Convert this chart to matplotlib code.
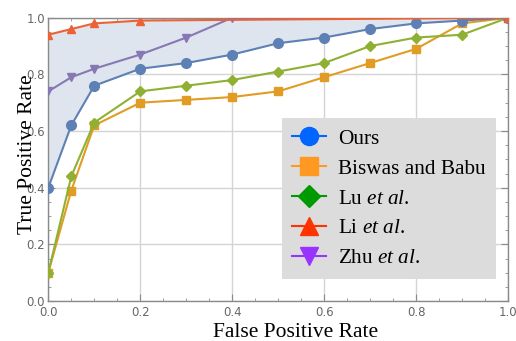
import matplotlib
matplotlib.use("Agg")
import matplotlib.pyplot as plt
import numpy as np
from matplotlib.lines import Line2D
from matplotlib.ticker import MultipleLocator

plt.rcParams["mathtext.fontset"] = "custom"
plt.rcParams["mathtext.rm"] = "Liberation Serif"
plt.rcParams["mathtext.it"] = "Liberation Serif:italic"

# --- data ---
fpr = [0.0, 0.05, 0.1, 0.2, 0.3, 0.4, 0.5, 0.6, 0.7, 0.8, 0.9, 1.0]
tpr_ours = [0.40, 0.62, 0.76, 0.82, 0.84, 0.87, 0.91, 0.93, 0.96, 0.98, 0.99, 1.0]
tpr_biswas = [0.10, 0.39, 0.62, 0.70, 0.71, 0.72, 0.74, 0.79, 0.84, 0.89, 0.98, 1.0]
tpr_lu = [0.10, 0.44, 0.63, 0.74, 0.76, 0.78, 0.81, 0.84, 0.90, 0.93, 0.94, 1.0]

fpr_li = [0.0, 0.05, 0.1, 0.2, 1.0]
tpr_li = [0.94, 0.96, 0.98, 0.99, 1.0]

fpr_zhu = [0.0, 0.05, 0.1, 0.2, 0.3, 0.4, 1.0]
tpr_zhu = [0.74, 0.79, 0.82, 0.87, 0.93, 1.0, 1.0]

names = ["Ours", "Biswas and Babu", r"Lu $\mathit{et\ al.}$",
         r"Li $\mathit{et\ al.}$", r"Zhu $\mathit{et\ al.}$"]

# plot colours (muted) and legend colours (saturated)
c_plot = ["#5e81b5", "#e19c24", "#8fb032", "#eb6235", "#8778b3"]
c_leg = ["#0066ff", "#ff9922", "#009900", "#ff3300", "#9933ff"]
mk = ["o", "s", "D", "^", "v"]
msz = [7, 5.5, 5, 6, 6]

fig = plt.figure(figsize=(5.16, 3.41), dpi=100)
ax = fig.add_axes([0.0936, 0.1173, 0.891, 0.8307])

# shaded band between Ours and Li et al.
li_interp = np.interp(fpr, fpr_li, tpr_li)
ax.fill_between(fpr, tpr_ours, li_interp, color="#dfe5ef", lw=0, zorder=1)

series = [(fpr, tpr_ours), (fpr, tpr_biswas), (fpr, tpr_lu),
          (fpr_li, tpr_li), (fpr_zhu, tpr_zhu)]
order_z = [4, 3, 3, 5, 3]
for (x, y), c, m, s, z in zip(series, c_plot, mk, msz, order_z):
    ax.plot(x, y, color=c, marker=m, markersize=s, lw=1.5, zorder=z)

ax.set_xlim(0, 1)
ax.set_ylim(0, 1)
ax.xaxis.set_major_locator(MultipleLocator(0.2))
ax.yaxis.set_major_locator(MultipleLocator(0.2))
ax.xaxis.set_minor_locator(MultipleLocator(0.05))
ax.yaxis.set_minor_locator(MultipleLocator(0.05))
ax.xaxis.set_major_formatter(lambda v, p: f"{v:.1f}")
ax.yaxis.set_major_formatter(lambda v, p: f"{v:.1f}")
ax.grid(True, which="major", color="#d4d4d4", lw=1, zorder=0)
ax.set_axisbelow(True)

for sp in ax.spines.values():
    sp.set_color("#8a8a8a")
    sp.set_linewidth(1)
ax.tick_params(which="both", direction="in", top=True, right=True,
               color="#8a8a8a", labelcolor="#666666", labelsize=8.5)
ax.tick_params(which="major", length=5)
ax.tick_params(which="minor", length=2.5)
ax.tick_params(axis="y", pad=2.5)

ax.set_xlabel("False Positive Rate", family="Liberation Serif", fontsize=15.5,
              va="baseline")
ax.xaxis.set_label_coords(0.537, -0.128)
ax.set_ylabel("True Positive Rate", family="Liberation Serif", fontsize=15.5,
              va="baseline")
ax.yaxis.set_label_coords(-0.036, 0.519)

handles = [Line2D([], [], color=c, marker=m, markersize=13 if m != "D" else 11,
                  lw=1.5) for c, m in zip(c_leg, mk)]
leg = ax.legend(handles, names, loc="lower left", bbox_to_anchor=(0.508, 0.078),
                prop={"family": "Liberation Serif", "size": 15.3},
                frameon=True, fancybox=False, facecolor="#dcdcdc", edgecolor="none",
                framealpha=1, handlelength=1.6, labelspacing=0.47, borderpad=0.5,
                handletextpad=0.55, borderaxespad=0)
leg.set_zorder(10)

fig.savefig("out.png", dpi=100)
